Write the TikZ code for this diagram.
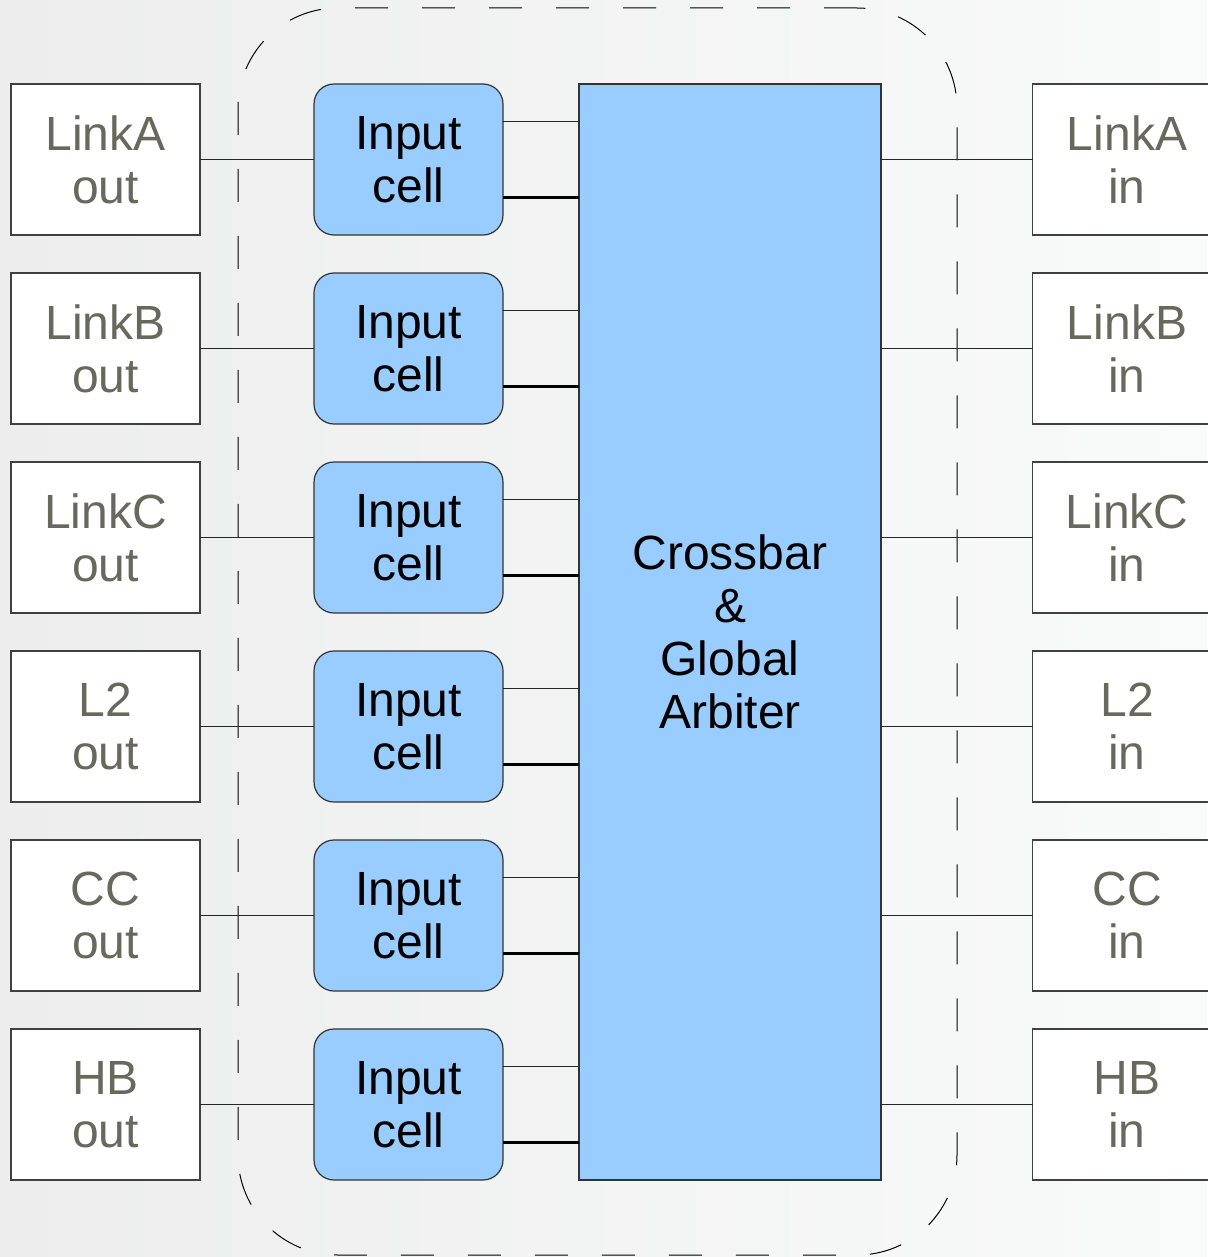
\documentclass[tikz,border=0pt]{standalone}
\usepackage{fontspec}
\setmainfont{Liberation Sans}
\usepackage{tikz}
\usetikzlibrary{positioning}
\definecolor{cellblue}{RGB}{153,204,255}
\definecolor{linkgray}{RGB}{104,104,92}
\definecolor{bgleft}{RGB}{236,237,236}
\definecolor{bgright}{RGB}{249,250,250}
\tikzstyle{link} = [rectangle, minimum width=94.5pt, minimum height=75.5pt, inner sep=0pt, outer sep=0pt, align=center, draw=black!75, line width=0.7pt, fill=white, text=linkgray]
\tikzstyle{inputcell} = [rectangle, rounded corners=10pt, minimum width=94.5pt, minimum height=75.5pt, inner sep=0pt, outer sep=0pt, align=center, draw=black!80, line width=0.6pt, fill=cellblue]
\tikzstyle{crossbar} = [rectangle, minimum width=151pt, minimum height=548pt, inner sep=0pt, outer sep=0pt, align=center, draw=black!80, line width=0.6pt, fill=cellblue]
\tikzstyle{coreframe} = [rectangle, rounded corners=50pt, minimum width=359.5pt, minimum height=623.5pt, draw=black, line width=0.5pt, dash pattern=on 16.5pt off 17pt]
\tikzstyle{wire} = [line width=0.5pt, draw=black!85]
\tikzstyle{bus} = [line width=1.5pt, draw=black]

\begin{document}
\begin{tikzpicture}
				[node distance=94.5pt, nodes = {font=\fontsize{24}{26.5}\selectfont},]

				\shade [left color=bgleft, right color=bgright] (0,0) rectangle (603.5pt,-628.5pt);
				\useasboundingbox (0,0) rectangle (603.5pt,-628.5pt);

				\node (core) [coreframe] at (298.75pt,-315.75pt) {};

				\node (outA) [link] at (52.75pt,-79.75pt) {LinkA\\out};
				\node (outB) [link, below of = outA] {LinkB\\out};
				\node (outC) [link, below of = outB] {LinkC\\out};
				\node (outL2) [link, below of = outC] {L2\\out};
				\node (outCC) [link, below of = outL2] {CC\\out};
				\node (outHB) [link, below of = outCC] {HB\\out};

				\node (cellA) [inputcell] at (204.25pt,-79.75pt) {Input\\cell};
				\node (cellB) [inputcell, below of = cellA] {Input\\cell};
				\node (cellC) [inputcell, below of = cellB] {Input\\cell};
				\node (cellL2) [inputcell, below of = cellC] {Input\\cell};
				\node (cellCC) [inputcell, below of = cellL2] {Input\\cell};
				\node (cellHB) [inputcell, below of = cellCC] {Input\\cell};

				\node (xbar) [crossbar] at (365pt,-316pt) {Crossbar\\\&\\Global\\Arbiter};

				\node (inA) [link] at (563.5pt,-79.75pt) {LinkA\\in};
				\node (inB) [link, below of = inA] {LinkB\\in};
				\node (inC) [link, below of = inB] {LinkC\\in};
				\node (inL2) [link, below of = inC] {L2\\in};
				\node (inCC) [link, below of = inL2] {CC\\in};
				\node (inHB) [link, below of = inCC] {HB\\in};

				% one row of wires per link
				\foreach \n in {A,B,C,L2,CC,HB} {
					\draw [wire] (out\n) -- (cell\n);
					\draw [wire] ([yshift=19pt]cell\n.east) -- ([yshift=19pt]cell\n.east -| xbar.west);
					\draw [bus] ([yshift=-19pt]cell\n.east) -- ([yshift=-19pt]cell\n.east -| xbar.west);
					\draw [wire] (xbar.east |- in\n) -- (in\n);
				}
			\end{tikzpicture}
\end{document}
